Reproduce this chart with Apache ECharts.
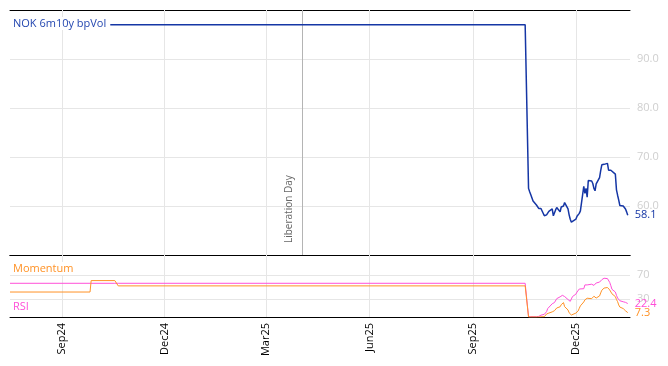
<!DOCTYPE html>
<html>
<head>
<meta charset="utf-8">
<script src="https://cdn.jsdelivr.net/npm/echarts@6/dist/echarts.min.js"></script>
<style>
html,body{margin:0;padding:0;background:#fff;}
#c{width:668px;height:366px;}
</style>
</head>
<body>
<div id="c"></div>
<script>
// ---- data ----
const tickDates = ['2024-09-01','2024-12-01','2025-03-01','2025-06-01','2025-09-01','2025-12-01'];
const axisStart = '2024-07-17';
const axisEnd = '2026-01-18';
const eventDate = '2025-04-02';
const eventName = 'Liberation Day';

// early period (flat / step changes)
const histDates = ['2024-07-17','2024-09-26','2024-09-27','2024-10-18','2024-10-21','2025-10-17'];
const volHist = [97.0, 97.0, 97.0, 97.0, 97.0, 97.0];
const rsiHist = [56, 56, 56, 56, 56, 56];
const momHist = [41.5, 41.5, 60.5, 60.5, 51.7, 51.7];

// recent period, business days 2025-10-20 .. 2026-01-16
const recentStart = '2025-10-20';
const recentEnd = '2026-01-16';
const volRecent = [63.6,62.9,62.3,62.0,61.0,60.2,59.8,59.5,59.3,59.5,58.0,57.8,58.2,58.6,58.9,59.4,58.0,58.4,59.2,59.7,58.8,59.8,59.5,60.0,60.7,59.4,58.2,57.3,56.7,56.4,57.3,57.9,58.0,58.5,59.0,64.0,62.6,63.6,61.8,65.2,65.1,64.6,63.6,63.1,64.5,65.8,67.2,68.4,68.4,68.5,68.7,67.3,67.3,67.3,67.2,66.5,63.3,62.2,61.2,60.1,60.0,59.9,59.4,58.8,58.1];
const rsiRecent = [0.5,0.5,0.5,0.5,0.5,0.5,0.5,0.5,1,1.5,3,4.5,6.5,8.9,14,17,22,22,24,27,30.5,33.5,35,36,36.7,34,29,26.5,26,30,34,38,41.5,44.5,46.5,47.5,47,53.3,55,53.3,54,54.5,52,52.5,55,56.5,58,60,62,63.5,64.4,63.8,62,57.5,52,46,41.5,36,31.5,28.7,27,25.3,24.8,24.3,23.5,22.4].slice(1);
const momRecent = [0,0,0,0,0,0,0,0,0,0.3,0.5,2,5,7,6.5,8.5,8,10.5,13.5,15,17,20.5,22,23.9,17.2,11.7,7,4.5,3.3,5.5,6.5,7.2,10,14.5,18.5,25,28.5,29.8,31.2,30.5,30.5,33,34.5,33,31.5,35,40,44.5,46.8,48,49,48,45,42.5,38.5,33.9,29,25.5,20,16.5,14,12,10.3,9,7.3];

const upperTicks = [60, 70, 80, 90];
const lowerLevels = [30, 70];
const monthNames = ['Jan','Feb','Mar','Apr','May','Jun','Jul','Aug','Sep','Oct','Nov','Dec'];

// ---- helpers ----
function ts(s){ const p = s.split('-').map(Number); return new Date(p[0], p[1]-1, p[2]).getTime(); }
function businessDays(a, b){
  const out = []; const d = new Date(ts(a)); const e = ts(b);
  while (d.getTime() <= e) { const w = d.getDay(); if (w !== 0 && w !== 6) out.push(d.getTime()); d.setDate(d.getDate()+1); }
  return out;
}
const recentDates = businessDays(recentStart, recentEnd);
function build(hist, recent){
  const n = Math.min(recentDates.length, recent.length);
  return histDates.map((d,i)=>[ts(d), hist[i]]).concat(recentDates.slice(0, n).map((t,i)=>[t, recent[i]]));
}
const tickTs = tickDates.map(ts);
const fmtMonth = v => { const d = new Date(v); return monthNames[d.getMonth()] + String(d.getFullYear()).slice(2); };

const BLUE = '#1536a5', ORANGE = '#ff9226', MAGENTA = '#ff4fd8';
const FONT = 'Open Sans';
const xMin = ts(axisStart), xMax = ts(axisEnd);

function xAxisBase(grid, pos, opts){
  return Object.assign({
    type: 'value', gridIndex: grid, position: pos, min: xMin, max: xMax,
    axisLine: { show: true, onZero: false, lineStyle: { color: '#000', width: 1 } },
    axisTick: { show: true, inside: true, length: 5, customValues: tickTs, lineStyle: { color: '#000' } },
    axisLabel: { show: false },
    splitLine: { show: false }
  }, opts || {});
}

const vGrid = tickTs.map(t => ({ xAxis: t }));

const chart = echarts.init(document.getElementById('c'), null, { renderer: 'canvas' });
chart.setOption({
  animation: false,
  textStyle: { fontFamily: FONT },
  title: [
    { text: 'NOK 6m10y bpVol', left: 10, top: 17, padding: [1,4,1,3], backgroundColor: '#fff',
      textStyle: { color: '#2447b0', fontSize: 11, fontWeight: 'normal', fontFamily: FONT } },
    { text: 'Momentum', left: 10, top: 262, padding: [1,4,1,3], backgroundColor: '#fff',
      textStyle: { color: ORANGE, fontSize: 11, fontWeight: 'normal', fontFamily: FONT } },
    { text: 'RSI', left: 10, top: 300, padding: [1,5,1,3], backgroundColor: '#fff',
      textStyle: { color: MAGENTA, fontSize: 11, fontWeight: 'normal', fontFamily: FONT } }
  ],
  grid: [
    { left: 10, right: 38, top: 10, height: 245 },
    { left: 10, right: 38, top: 255, height: 62 }
  ],
  xAxis: [
    xAxisBase(0, 'bottom'),
    xAxisBase(1, 'bottom', {
      axisLabel: { show: true, rotate: 90, customValues: tickTs, formatter: fmtMonth,
        color: '#000', fontSize: 11, fontFamily: FONT, margin: 6 }
    }),
    xAxisBase(0, 'top', { axisTick: { show: false } }),
    xAxisBase(1, 'top')
  ],
  yAxis: [
    { type: 'value', gridIndex: 0, position: 'right', min: 50, max: 100, interval: 10,
      axisLine: { show: false }, axisTick: { show: false },
      axisLabel: { color: '#cfcfcf', fontSize: 11, fontFamily: FONT, margin: 7,
        customValues: upperTicks, formatter: v => v.toFixed(1) },
      splitLine: { show: true, lineStyle: { color: '#e6e6e6', width: 1 } } },
    { type: 'value', gridIndex: 1, position: 'right', min: 0, max: 103,
      axisLine: { show: false }, axisTick: { show: false },
      axisLabel: { color: '#cfcfcf', fontSize: 11, fontFamily: FONT, margin: 7,
        customValues: lowerLevels, formatter: v => String(v) },
      splitLine: { show: false } }
  ],
  series: [
    { name: 'NOK 6m10y bpVol', type: 'line', xAxisIndex: 0, yAxisIndex: 0,
      data: build(volHist, volRecent), showSymbol: false, z: 3,
      lineStyle: { color: BLUE, width: 1.5 }, itemStyle: { color: BLUE },
      endLabel: { show: true, formatter: p => p.value[1].toFixed(1), color: BLUE, fontSize: 11, fontFamily: FONT, distance: 7 },
      markLine: { silent: true, symbol: 'none', z: 1, animation: false,
        label: { show: false },
        lineStyle: { color: '#e6e6e6', width: 1, type: 'solid' },
        data: vGrid.concat([{ xAxis: ts(eventDate),
          lineStyle: { color: '#b4b4b4', width: 1, type: 'solid' },
          label: { show: true, formatter: eventName, position: 'insideStartTop', color: '#666', fontSize: 10, fontFamily: FONT, distance: [12, 8] } }]) }
    },
    { name: 'RSI', type: 'line', xAxisIndex: 1, yAxisIndex: 1,
      data: build(rsiHist, rsiRecent), showSymbol: false, z: 3,
      lineStyle: { color: MAGENTA, width: 1 }, itemStyle: { color: MAGENTA },
      endLabel: { show: true, formatter: p => p.value[1].toFixed(1), color: MAGENTA, fontSize: 11, fontFamily: FONT, distance: 7 },
      markLine: { silent: true, symbol: 'none', z: 1, animation: false,
        label: { show: false },
        lineStyle: { color: '#e6e6e6', width: 1, type: 'solid' },
        data: vGrid.concat(lowerLevels.map(v => ({ yAxis: v }))) }
    },
    { name: 'Momentum', type: 'line', xAxisIndex: 1, yAxisIndex: 1,
      data: build(momHist, momRecent), showSymbol: false, z: 4,
      lineStyle: { color: ORANGE, width: 1 }, itemStyle: { color: ORANGE },
      endLabel: { show: true, formatter: p => p.value[1].toFixed(1), color: ORANGE, fontSize: 11, fontFamily: FONT, distance: 7 }
    }
  ]
});
</script>
</body>
</html>
